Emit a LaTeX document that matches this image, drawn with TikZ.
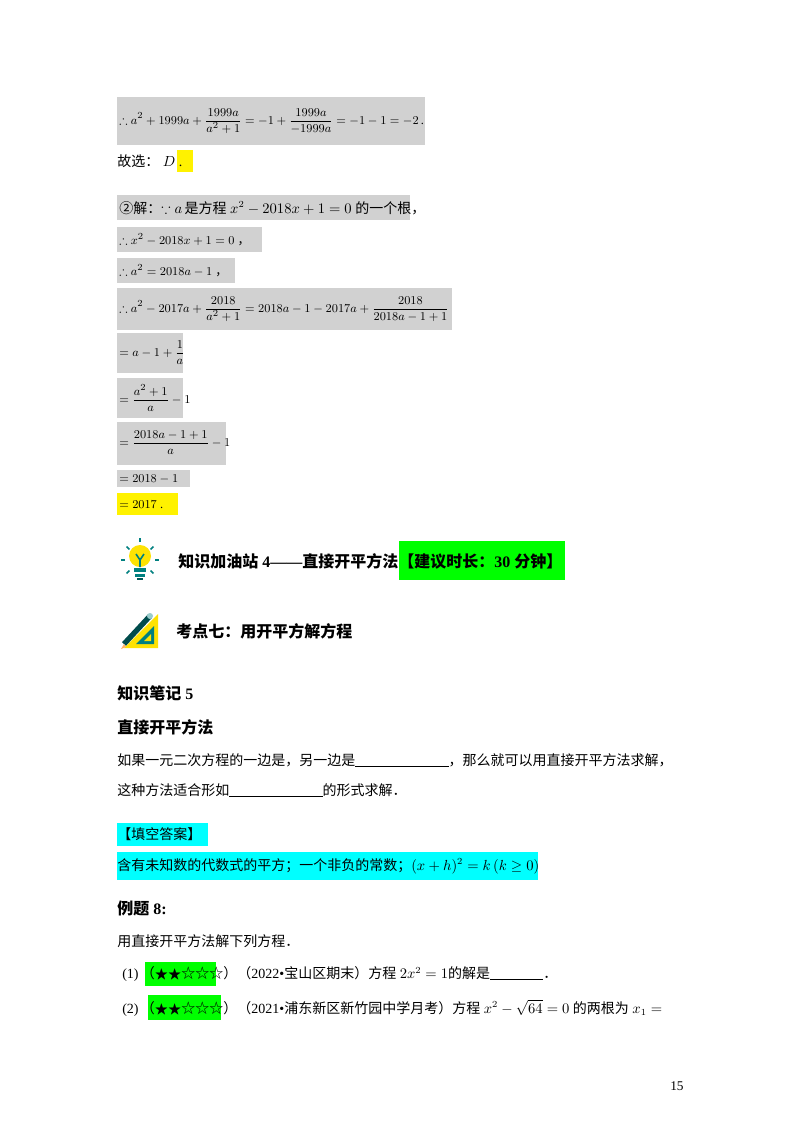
\documentclass[tikz,border=0pt]{standalone}
\usepackage{amsmath,amssymb}
\usepackage{fontspec}
\setmainfont{Liberation Serif}
\newfontfamily\cjk{Noto Sans CJK SC}
\definecolor{cy}{rgb}{0,1,1}
\begin{document}
\begin{tikzpicture}[x=0.75pt,y=-0.75pt,
  t/.style={anchor=west,inner sep=0pt,font=\fontsize{10.5}{12}\selectfont},
  m/.style={anchor=west,inner sep=0pt,font=\fontsize{9.3}{11}\selectfont},
  hb/.style={anchor=west,inner sep=0pt,font=\fontsize{12}{14}\selectfont\bfseries},
  gbox/.style={fill=black!18,draw=none},
  ybox/.style={fill=yellow,draw=none},
  cbox/.style={fill=cy,draw=none},
  grbox/.style={fill=green,draw=none}]
\useasboundingbox (0,0) rectangle (800,1132);
\fill[white] (0,0) rectangle (800,1132);
% boxes
\fill[gbox] (117,97) rectangle (425,145);
\fill[ybox] (177,150) rectangle (193,172);
\fill[gbox] (117,195) rectangle (410,220);
\fill[gbox] (117,227) rectangle (262,252);
\fill[gbox] (117,258) rectangle (235,283);
\fill[gbox] (117,288) rectangle (452,330);
\fill[gbox] (117,333) rectangle (183,373);
\fill[gbox] (117,378) rectangle (183,418);
\fill[gbox] (117,422) rectangle (226,465);
\fill[gbox] (117,470) rectangle (190,487);
\fill[ybox] (117,493) rectangle (178,515);
\fill[grbox] (399,541) rectangle (565,580);
\fill[cbox] (117,823) rectangle (208,846);
\fill[cbox] (117,852) rectangle (538,880);
\fill[grbox] (145,962) rectangle (216,986);
\fill[grbox] (148,995) rectangle (221,1020);
% math lines
\node[m] (l1) at (119,121) {$\therefore a^2+1999a+\dfrac{1999a}{a^2+1}=-1+\dfrac{1999a}{-1999a}=-1-1=-2$\,.};
\node[t] (l2) at (117,161) {{\cjk 故选：}\ $D$\ .};
\node[t] (l3) at (119,208) {{\cjk ②解：}$\because a$\,{\cjk 是方程}\ $x^2-2018x+1=0$\ {\cjk 的一个根，}};
\node[m] (l4) at (119,240) {$\therefore x^2-2018x+1=0$\ {\cjk ，}};
\node[m] (l5) at (119,271) {$\therefore a^2=2018a-1$\ {\cjk ，}};
\node[m] (l6) at (119,309) {$\therefore a^2-2017a+\dfrac{2018}{a^2+1}=2018a-1-2017a+\dfrac{2018}{2018a-1+1}$};
\node[m] (l7) at (119,353) {$=a-1+\dfrac{1}{a}$};
\node[m] (l8) at (119,398) {$=\dfrac{a^2+1}{a}-1$};
\node[m] (l9) at (119,443) {$=\dfrac{2018a-1+1}{a}-1$};
\node[m] (l10) at (119,479) {$=2018-1$};
\node[m] (l11) at (119,505) {$=2017$\ .};
% lightbulb icon
\begin{scope}[shift={(140,560)}]
\fill[yellow!85!orange] (0,-4) circle (11);
\fill[teal] (-6,8) rectangle (6,12);
\fill[teal] (-5,14) rectangle (5,17);
\fill[teal!70!black] (-3,18) rectangle (3,20);
\draw[teal,line width=1.2pt] (-4,-6) -- (0,0) -- (4,-6) (0,0) -- (0,7);
\foreach \a in {0,45,135,180,225,315}{\draw[teal,line width=1.2pt] (\a:15) -- (\a:19);}
\draw[teal,line width=1.2pt] (0,-18) -- (0,-22);
\end{scope}
\node[hb] (h1) at (178,561) {{\cjk 知识加油站} 4——{\cjk 直接开平方法【建议时长：}30 {\cjk 分钟】}};
% pencil and ruler icon
\begin{scope}[shift={(140,630)}]
\fill[yellow!85!orange] (-16,18) -- (18,18) -- (18,-16) -- cycle;
\fill[teal] (-4,14) -- (14,14) -- (14,-4) -- cycle;
\fill[yellow!85!orange] (4,11) -- (11,11) -- (11,4) -- cycle;
\draw[teal!60!black,line width=4pt] (-16,14) -- (10,-14);
\fill[teal!40] (10,-14) circle (3);
\fill[orange!60] (-16,14) -- (-19,19) -- (-14,17) -- cycle;
\end{scope}
\node[hb] (h2) at (176,631) {\cjk 考点七：用开平方解方程};
\node[hb] (h3) at (117,693) {{\cjk 知识笔记} 5};
\node[hb] (h4) at (117,727) {\cjk 直接开平方法};
\node[t] (p1) at (117,760) {{\cjk 如果一元二次方程的一边是，另一边是}\rule[-1pt]{70pt}{0.4pt}{\cjk ，那么就可以用直接开平方法求解，}};
\node[t] (p2) at (117,790) {{\cjk 这种方法适合形如}\rule[-1pt]{70pt}{0.4pt}{\cjk 的形式求解．}};
\node[t] (p3) at (117,834) {\cjk 【填空答案】};
\node[t] (p4) at (117,866) {{\cjk 含有未知数的代数式的平方；一个非负的常数；}$(x+h)^2=k\,(k\geq0)$};
\node[hb] (p5) at (117,908) {{\cjk 例题} 8:};
\node[t] (p6) at (117,941) {\cjk 用直接开平方法解下列方程．};
\node[t] (p7) at (122,974) {(1)\,{\cjk （}$\bigstar\bigstar${\cjk ☆☆☆）（}2022\textbullet{\cjk 宝山区期末）方程} $2x^2=1${\cjk 的解是}\rule[-1pt]{40pt}{0.4pt}{\cjk ．}};
\node[t] (p8) at (122,1008) {(2)\,{\cjk （}$\bigstar\bigstar${\cjk ☆☆☆）（}2021\textbullet{\cjk 浦东新区新竹园中学月考）方程} $x^2-\sqrt{64}=0$ {\cjk 的两根为} $x_1=$};
\node[t,font=\fontsize{10}{12}\selectfont] (pg) at (670,1086) {15};
\end{tikzpicture}
\end{document}
